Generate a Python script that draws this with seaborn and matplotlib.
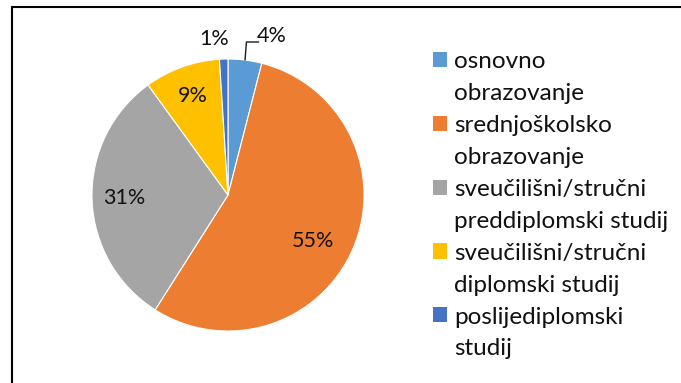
import numpy as np
import matplotlib
matplotlib.use("Agg")
import matplotlib.pyplot as plt
from matplotlib.lines import Line2D
from matplotlib.patches import Patch
import seaborn as sns

# Education level shares (%)
categories = [
    "osnovno\nobrazovanje",
    "srednjoškolsko\nobrazovanje",
    "sveučilišni/stručni\npreddiplomski studij",
    "sveučilišni/stručni\ndiplomski studij",
    "poslijediplomski\nstudij",
]
shares = [4, 55, 31, 9, 1]
colors = ["#5B9BD5", "#ED7D31", "#A5A5A5", "#FFC000", "#4472C4"]

sns.set_theme(style="white")
plt.rcParams["font.family"] = ["Lato", "DejaVu Sans"]

W, H = 681, 383
fig = plt.figure(figsize=(W / 100, H / 100), dpi=100)
fig.patch.set_facecolor("white")

# pie centre and radius in pixels
cx, cy, r = 228, 195, 136
lim = 1.3
side = 2 * lim * r
ax = fig.add_axes([(cx - side / 2) / W, (H - cy - side / 2) / H, side / W, side / H])

wedges, _ = ax.pie(shares, colors=colors, startangle=90, counterclock=False,
                   radius=1.0, wedgeprops=dict(edgecolor="white", linewidth=0.8))
ax.set_xlim(-lim, lim)
ax.set_ylim(-lim, lim)
ax.set_aspect("equal")
ax.axis("off")

# label placement per slice: (radial factor, angle nudge in degrees)
label_place = [(1.21, -8.2), (0.71, -5.0), (0.76, 0.0), (0.77, 0.0), (1.15, 3.2)]
for w, v, (rf, dang) in zip(wedges, shares, label_place):
    mid = np.deg2rad((w.theta1 + w.theta2) / 2 + dang)
    x, y = rf * np.cos(mid), rf * np.sin(mid)
    ax.text(x, y, f"{v}%", ha="center", va="center", fontsize=15.5, color="#111111",
            clip_on=False)

# leader line for the small first slice
w0 = wedges[0]
m0 = np.deg2rad((w0.theta1 + w0.theta2) / 2)
ex, ey = np.cos(m0), np.sin(m0)
ax.plot([ex, ex + 0.01, ex + 0.1], [ey, 1.125, 1.125], color="#1a1a1a", lw=1.0,
        clip_on=False)

# legend: one row per text line, squares on the first line of each entry
handles, labels = [], []
for c, lab in zip(colors, categories):
    lines = lab.split("\n")
    handles.append(Patch(facecolor=c, edgecolor="none"))
    labels.append(lines[0])
    for extra in lines[1:]:
        handles.append(Patch(facecolor="none", edgecolor="none"))
        labels.append(extra)

fs = 17.5
leg = fig.legend(handles, labels, loc="upper left",
                 bbox_to_anchor=(433 / W, 1 - 51 / H), frameon=False,
                 fontsize=fs, handlelength=0.58, handleheight=0.58,
                 handletextpad=0.3, labelspacing=0.45, borderpad=0,
                 borderaxespad=0)
for t in leg.get_texts():
    t.set_color("#111111")

# chart frame (top and left edges)
fig.add_artist(Line2D([11.5 / W, 11.5 / W], [0, 1 - 6.5 / H], color="black",
                      lw=1.5, transform=fig.transFigure))
fig.add_artist(Line2D([11.5 / W, 1], [1 - 6.5 / H, 1 - 6.5 / H], color="black",
                      lw=1.5, transform=fig.transFigure))

fig.savefig("out.png", dpi=100)
